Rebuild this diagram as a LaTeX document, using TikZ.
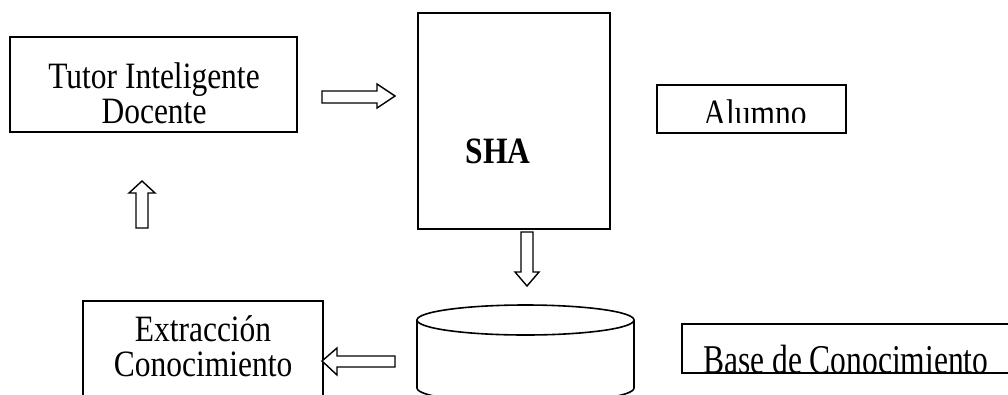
\documentclass[tikz,border=0pt]{standalone}
\usepackage{fontspec}
\setmainfont{Liberation Serif}
\usetikzlibrary{positioning}

\begin{document}
\begin{tikzpicture}[x=1pt, y=-1pt,
    box/.style={draw, line width=1.6pt, inner sep=0pt, outer sep=0pt},
    blockarrow/.style={draw, line width=1.4pt, line join=miter, fill=white},
    txt/.style={font=\fontsize{31.5}{30}\selectfont, inner sep=0pt, align=center, yscale=1.18}
    ]
\useasboundingbox (0,0) rectangle (1008,394);
\clip (0,0) rectangle (1008,394);

% boxes
\node[box, minimum width=287pt, minimum height=95pt] (tutor) at (153.5,84.5) {};
\node[box, minimum width=192pt, minimum height=216pt] (sha) at (514,121) {};
\node[box, minimum width=189pt, minimum height=48pt] (alumno) at (751.5,109) {};
\node[box, minimum width=240pt, minimum height=130pt] (extraccion) at (203,366) {};
\node[box, minimum width=340pt, minimum height=49pt] (base) at (852,348.5) {};

% texts
\node[txt, anchor=north] (tutortext) at (154,62) {Tutor Inteligente\\Docente};
\node[txt, font=\fontsize{31.5}{30}\selectfont\bfseries] (shatext) at (498,151) {SHA};
\node[txt, anchor=north] (extracciontext) at (203,315) {Extracción\\Conocimiento};
\begin{scope}
  \clip (alumno.north west) rectangle (846,122);
  \node[txt, anchor=base] (alumnotext) at (755,125) {Alumno};
\end{scope}
\begin{scope}
  \clip (base.north west) rectangle (1008,372);
  \node[txt, anchor=base west, yscale=1.1] (basetext) at (703,373) {Base de Conocimiento};
\end{scope}

% base de conocimiento (cilindro)
\coordinate (kb) at (525.5,320);
\draw[line width=1.6pt] (kb) ellipse[x radius=108.5, y radius=15];
\draw[line width=1.6pt] (417,320) -- (417,388)
    arc[start angle=180, end angle=0, x radius=108.5, y radius=15] -- (634,320);

% flechas
\draw[blockarrow] (322,91) -- (377,91) -- (377,84) -- (395,96) -- (377,108) -- (377,103) -- (322,103) -- cycle;
\draw[blockarrow] (521,232) -- (533,232) -- (533,272) -- (539,272) -- (527,286) -- (515,272) -- (521,272) -- cycle;
\draw[blockarrow] (395,356) -- (337,356) -- (337,348) -- (322,361) -- (337,375) -- (337,367) -- (395,367) -- cycle;
\draw[blockarrow] (136,228) -- (136,193) -- (129,193) -- (142,181) -- (155,193) -- (148,193) -- (148,228) -- cycle;
\end{tikzpicture}
\end{document}
